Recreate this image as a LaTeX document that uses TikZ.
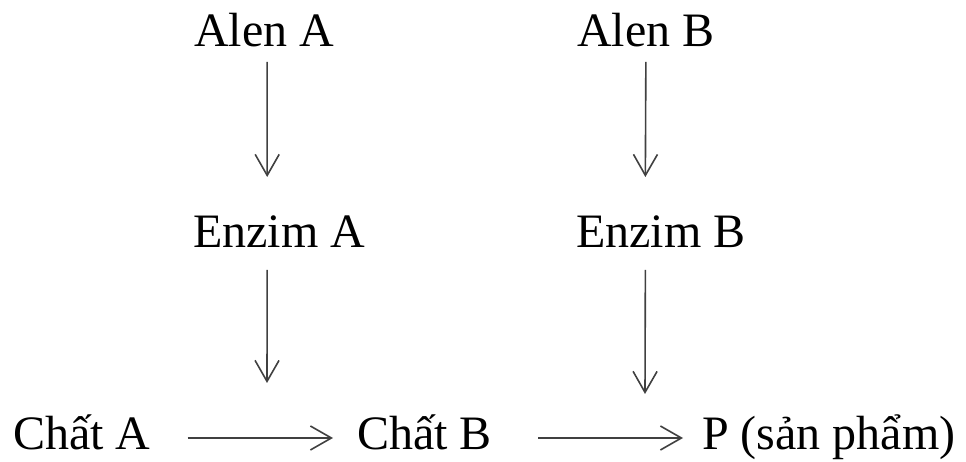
\documentclass[tikz,border=0pt]{standalone}
\usepackage{fontspec}
\setmainfont{Liberation Serif}
\usetikzlibrary{arrows.meta}
\begin{document}
\begin{tikzpicture}[x=1pt,y=1pt,
  lbl/.style={inner sep=0pt,anchor=base west,text=black,font=\fontsize{48}{58}\selectfont},
  arr/.style={draw=black!75,line width=1.6pt,-{Straight Barb[length=21pt,width=24pt,line width=1.6pt]}}]
\useasboundingbox (0,0) rectangle (966,462);
% labels
\node[lbl] (alenA) at (194,415) {Alen A};
\node[lbl] (alenB) at (577,415) {Alen B};
\node[lbl] (enzA) at (193,214) {Enzim A};
\node[lbl] (enzB) at (576,214) {Enzim B};
\node[lbl] (chatA) at (13,12) {Chất A};
\node[lbl] (chatB) at (357,12) {Chất B};
\node[lbl] (prod) at (702,12) {P (sản phẩm)};
% points on the reaction arrows where the enzymes act
\coordinate (actA) at (267,79);
\coordinate (actB) at (645,68);
% gene -> enzyme
\draw[arr] ([shift={(3,-15)}]alenA.base) -- ([shift={(-12,71)}]enzA.base);
\draw[arr] ([shift={(0,-15)}]alenB.base) -- ([shift={(-15.5,71)}]enzB.base);
% enzyme -> reaction
\draw[arr] ([shift={(-12,-22)}]enzA.base) -- (actA);
\draw[arr] ([shift={(-15.5,-22)}]enzB.base) -- (actB);
% reaction chain
\draw[arr] ([shift={(37,12)}]chatA.base east) -- ([shift={(-24,12)}]chatB.base west);
\draw[arr] ([shift={(46,12)}]chatB.base east) -- ([shift={(-19,12)}]prod.base west);
\end{tikzpicture}
\end{document}
